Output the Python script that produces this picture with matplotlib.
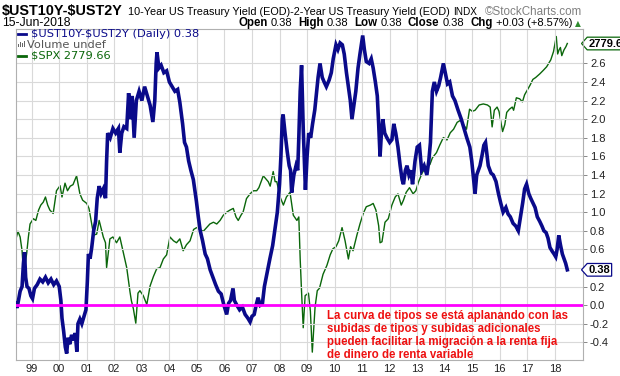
import matplotlib
matplotlib.use("Agg")
import matplotlib.pyplot as plt
import matplotlib.transforms as mtransforms
from matplotlib.path import Path
import numpy as np

# ---------------- data ----------------
spread_t = [1998.43, 1998.47, 1998.52, 1998.58, 1998.65, 1998.70, 1998.74, 1998.78, 1998.83, 1998.90,
            1998.97, 1999.03, 1999.10, 1999.20, 1999.30, 1999.40, 1999.50, 1999.60, 1999.70, 1999.80,
            1999.90, 2000.00, 2000.06, 2000.10, 2000.16, 2000.22, 2000.27, 2000.32, 2000.38, 2000.45,
            2000.52, 2000.58, 2000.64, 2000.68, 2000.75, 2000.82, 2000.90, 2000.97, 2001.02, 2001.06,
            2001.12, 2001.18, 2001.25, 2001.32, 2001.38, 2001.45, 2001.52, 2001.60, 2001.68, 2001.72,
            2001.76, 2001.85, 2001.95, 2002.05, 2002.15, 2002.20, 2002.27, 2002.35, 2002.45, 2002.52,
            2002.58, 2002.65, 2002.72, 2002.80, 2002.90, 2003.00, 2003.10, 2003.20, 2003.30, 2003.40,
            2003.47, 2003.52, 2003.55, 2003.62, 2003.70, 2003.80, 2003.90, 2004.00, 2004.10, 2004.20,
            2004.30, 2004.38, 2004.48, 2004.55, 2004.62, 2004.70, 2004.78, 2004.87, 2004.98, 2005.05,
            2005.12, 2005.20, 2005.30, 2005.38, 2005.48, 2005.58, 2005.68, 2005.78, 2005.88, 2005.98,
            2006.08, 2006.15, 2006.22, 2006.31, 2006.36, 2006.45, 2006.55, 2006.65, 2006.75, 2006.85,
            2006.93, 2007.00, 2007.08, 2007.15, 2007.22, 2007.30, 2007.38, 2007.45, 2007.55, 2007.65,
            2007.75, 2007.85, 2007.92, 2008.00, 2008.05, 2008.10, 2008.13, 2008.20, 2008.28, 2008.35,
            2008.40, 2008.44, 2008.52, 2008.60, 2008.66, 2008.70, 2008.75, 2008.80, 2008.86, 2008.94,
            2009.00, 2009.06, 2009.13, 2009.20, 2009.28, 2009.33, 2009.40, 2009.47, 2009.55, 2009.62,
            2009.70, 2009.80, 2009.88, 2009.95, 2010.05, 2010.12, 2010.20, 2010.28, 2010.35, 2010.43,
            2010.50, 2010.57, 2010.63, 2010.70, 2010.77, 2010.85, 2010.92, 2011.02, 2011.08, 2011.15,
            2011.25, 2011.33, 2011.40, 2011.48, 2011.55, 2011.60, 2011.65, 2011.70, 2011.75, 2011.82,
            2011.90, 2012.00, 2012.08, 2012.15, 2012.22, 2012.30, 2012.38, 2012.45, 2012.50, 2012.57,
            2012.63, 2012.70, 2012.77, 2012.83, 2012.92, 2013.00, 2013.08, 2013.16, 2013.25, 2013.35,
            2013.42, 2013.48, 2013.55, 2013.62, 2013.70, 2013.78, 2013.85, 2013.95, 2014.02, 2014.10,
            2014.18, 2014.28, 2014.37, 2014.48, 2014.60, 2014.70, 2014.80, 2014.91, 2014.98, 2015.03,
            2015.10, 2015.16, 2015.22, 2015.28, 2015.36, 2015.42, 2015.48, 2015.58, 2015.68, 2015.76,
            2015.86, 2015.95, 2016.03, 2016.12, 2016.22, 2016.30, 2016.38, 2016.48, 2016.58, 2016.67,
            2016.75, 2016.83, 2016.90, 2016.97, 2017.05, 2017.12, 2017.20, 2017.28, 2017.36, 2017.45,
            2017.53, 2017.60, 2017.68, 2017.75, 2017.82, 2017.90, 2017.97, 2018.03, 2018.08, 2018.14,
            2018.20, 2018.27, 2018.33, 2018.39, 2018.45]
spread_v = [0.02, -0.03, 0.05, 0.15, 0.20, 0.45, 0.57, 0.30, 0.20, 0.18,
            0.10, 0.07, 0.18, 0.22, 0.28, 0.25, 0.30, 0.24, 0.28, 0.22,
            0.26, 0.20, 0.05, -0.14, -0.28, -0.45, -0.52, -0.35, -0.42, -0.32,
            -0.38, -0.30, -0.50, -0.20, -0.15, -0.20, -0.12, -0.05, 0.25, 0.55,
            0.50, 0.62, 0.80, 0.90, 1.15, 1.28, 1.20, 1.25, 1.15, 1.55,
            1.85, 1.80, 1.90, 1.85, 1.90, 1.64, 1.85, 1.92, 1.90, 2.28,
            2.00, 2.25, 1.80, 2.20, 2.30, 2.20, 2.35, 2.25, 2.15, 1.97,
            2.20, 2.60, 2.72, 2.55, 2.58, 2.50, 2.52, 2.40, 2.35, 2.30,
            2.32, 2.18, 1.95, 1.75, 1.70, 1.55, 1.45, 1.35, 1.12, 0.95,
            0.80, 0.70, 0.55, 0.50, 0.38, 0.30, 0.22, 0.15, 0.12, 0.00,
            -0.10, 0.02, 0.05, 0.18, 0.05, 0.00, -0.05, -0.02, -0.10, -0.14,
            -0.18, -0.12, -0.10, 0.00, 0.08, 0.00, 0.02, 0.20, 0.35, 0.50,
            0.64, 0.85, 1.00, 1.30, 1.60, 2.00, 2.05, 1.85, 1.65, 1.50,
            1.45, 1.21, 1.40, 1.50, 1.45, 1.80, 2.30, 2.58, 1.90, 1.24,
            1.60, 1.85, 1.80, 1.95, 2.10, 2.25, 2.45, 2.60, 2.45, 2.40,
            2.35, 2.42, 2.50, 2.65, 2.80, 2.75, 2.82, 2.80, 2.70, 2.50,
            2.35, 2.20, 2.00, 2.15, 2.30, 2.55, 2.70, 2.90, 2.75, 2.62,
            2.60, 2.65, 2.55, 2.40, 2.25, 1.95, 1.60, 1.85, 2.00, 1.85,
            1.80, 1.75, 1.78, 1.95, 1.85, 1.70, 1.50, 1.35, 1.30, 1.45,
            1.50, 1.40, 1.45, 1.30, 1.55, 1.70, 1.72, 1.45, 1.50, 1.40,
            1.55, 1.75, 2.30, 2.40, 2.30, 2.36, 2.45, 2.60, 2.50, 2.38,
            2.40, 2.25, 2.20, 2.10, 2.00, 1.90, 1.80, 1.70, 1.55, 1.40,
            1.20, 1.40, 1.45, 1.50, 1.62, 1.72, 1.75, 1.50, 1.42, 1.40,
            1.33, 1.20, 1.10, 1.00, 1.05, 0.98, 0.95, 0.88, 0.85, 0.80,
            0.95, 1.10, 1.25, 1.30, 1.20, 1.15, 1.10, 1.05, 0.95, 0.90,
            0.85, 0.80, 0.78, 0.72, 0.62, 0.58, 0.55, 0.52, 0.60, 0.75,
            0.65, 0.55, 0.50, 0.45, 0.38]

spx_t = [1998.43, 1998.50, 1998.58, 1998.65, 1998.70, 1998.76, 1998.82, 1998.88, 1998.94, 1999.06,
         1999.15, 1999.25, 1999.33, 1999.42, 1999.50, 1999.58, 1999.66, 1999.78, 1999.90, 2000.03,
         2000.10, 2000.21, 2000.30, 2000.40, 2000.50, 2000.63, 2000.70, 2000.75, 2000.85, 2001.00,
         2001.08, 2001.18, 2001.25, 2001.36, 2001.45, 2001.60, 2001.68, 2001.72, 2001.84, 2001.95,
         2002.08, 2002.20, 2002.33, 2002.45, 2002.57, 2002.62, 2002.69, 2002.78, 2002.86, 2002.93,
         2003.05, 2003.18, 2003.30, 2003.42, 2003.54, 2003.66, 2003.78, 2003.90, 2004.02, 2004.15,
         2004.26, 2004.38, 2004.50, 2004.62, 2004.75, 2004.88, 2004.99, 2005.10, 2005.23, 2005.35,
         2005.47, 2005.60, 2005.72, 2005.84, 2005.96, 2006.10, 2006.20, 2006.32, 2006.42, 2006.50,
         2006.60, 2006.68, 2006.80, 2006.93, 2007.05, 2007.17, 2007.25, 2007.41, 2007.50, 2007.59,
         2007.66, 2007.77, 2007.84, 2007.90, 2008.02, 2008.14, 2008.25, 2008.38, 2008.50, 2008.63,
         2008.70, 2008.75, 2008.80, 2008.86, 2008.93, 2009.05, 2009.12, 2009.19, 2009.29, 2009.37,
         2009.45, 2009.58, 2009.72, 2009.84, 2009.94, 2010.05, 2010.15, 2010.27, 2010.38, 2010.50,
         2010.58, 2010.67, 2010.81, 2010.92, 2011.04, 2011.15, 2011.30, 2011.40, 2011.50, 2011.60,
         2011.65, 2011.72, 2011.83, 2011.95, 2012.08, 2012.20, 2012.30, 2012.42, 2012.50, 2012.60,
         2012.72, 2012.85, 2012.95, 2013.05, 2013.18, 2013.30, 2013.46, 2013.55, 2013.70, 2013.82,
         2013.95, 2014.08, 2014.20, 2014.32, 2014.45, 2014.58, 2014.65, 2014.79, 2014.90, 2015.00,
         2015.10, 2015.25, 2015.40, 2015.55, 2015.65, 2015.72, 2015.80, 2015.90, 2015.97, 2016.10,
         2016.18, 2016.25, 2016.35, 2016.45, 2016.50, 2016.60, 2016.72, 2016.82, 2016.90, 2017.00,
         2017.10, 2017.20, 2017.30, 2017.45, 2017.58, 2017.70, 2017.85, 2017.95, 2018.05, 2018.10,
         2018.15, 2018.20, 2018.25, 2018.33, 2018.40, 2018.45]
spx_v = [1140, 1180, 1150, 1080, 985, 1010, 1070, 1150, 1220, 1250,
         1240, 1300, 1330, 1348, 1380, 1330, 1300, 1280, 1420, 1453,
         1380, 1470, 1420, 1450, 1460, 1520, 1450, 1400, 1360, 1340,
         1310, 1220, 1160, 1165, 1240, 1150, 1120, 1000, 1140, 1150,
         1120, 1150, 1070, 1000, 895, 860, 830, 776, 890, 900,
         880, 845, 920, 960, 995, 1000, 1040, 1060, 1150, 1130,
         1120, 1140, 1080, 1110, 1130, 1190, 1200, 1190, 1180, 1200,
         1220, 1230, 1220, 1240, 1270, 1290, 1300, 1310, 1260, 1240,
         1270, 1290, 1370, 1400, 1420, 1420, 1440, 1520, 1500, 1480,
         1450, 1550, 1480, 1480, 1380, 1330, 1380, 1410, 1270, 1240,
         1260, 1040, 895, 760, 880, 890, 820, 680, 835, 900,
         910, 970, 1010, 1060, 1090, 1100, 1130, 1200, 1130, 1040,
         1100, 1080, 1160, 1220, 1280, 1320, 1330, 1340, 1300, 1210,
         1120, 1125, 1230, 1250, 1330, 1380, 1400, 1330, 1360, 1410,
         1440, 1400, 1420, 1480, 1540, 1580, 1600, 1650, 1690, 1750,
         1810, 1790, 1850, 1880, 1940, 1960, 1930, 1880, 2060, 2040,
         2050, 2100, 2110, 2100, 2080, 1900, 2050, 2080, 2040, 1860,
         1920, 2030, 2060, 2080, 2050, 2170, 2160, 2130, 2200, 2250,
         2300, 2360, 2380, 2420, 2460, 2500, 2580, 2680, 2870, 2650,
         2700, 2730, 2630, 2700, 2740, 2780]

year_ticks = list(range(1999, 2019))
year_labels = ["99", "00", "01", "02", "03", "04", "05", "06", "07", "08",
               "09", "10", "11", "12", "13", "14", "15", "16", "17", "18"]
y_ticks = [-0.4, -0.2, 0.0, 0.2, 0.4, 0.6, 0.8, 1.0, 1.2, 1.4, 1.6, 1.8, 2.0, 2.2, 2.4, 2.6]

last_spread = 0.38
last_spx = 2779.66

# ---------------- figure ----------------
W, H = 620, 376
fig = plt.figure(figsize=(W / 100, H / 100), dpi=100)
fig.patch.set_facecolor("white")

L, R, T, B = 16, 583, 29, 360
ax = fig.add_axes([L / W, 1 - B / H, (R - L) / W, (B - T) / H])
ax2 = ax.twinx()

ax.set_xlim(1998.43, 2019.02)
ax.set_ylim(-0.59, 2.97)

grid_c = "#d9d9d9"
for s in ax.spines.values():
    s.set_color("#b0b0b0")
    s.set_linewidth(0.8)
ax.set_xticks(year_ticks)
ax.set_xticklabels(year_labels, fontsize=8, family="Liberation Sans", color="#222222")
shift = mtransforms.ScaledTranslation(-2.5 / 100, 0, fig.dpi_scale_trans)
for lab in ax.get_xticklabels():
    lab.set_transform(lab.get_transform() + shift)
ax.yaxis.tick_right()
ax.set_yticks(y_ticks)
# the 0.4 label sits under the last-value tag in the reference, so it is not shown
ax.set_yticklabels(["" if abs(v - 0.4) < 1e-9 else f"{v:.1f}" for v in y_ticks],
                   fontsize=8, family="Liberation Sans", color="#222222")
ax.tick_params(axis="x", length=0, pad=3)
ax.tick_params(axis="y", length=3, width=0.7, color="#888888", pad=2,
               left=False, labelleft=False, right=True, labelright=True)
ax.grid(True, color=grid_c, linewidth=0.8)
ax.set_axisbelow(True)

# SPX on hidden log axis
ax2.set_yscale("log")
ax2.set_ylim(656, 2970)
ax2.set_yticks([])
ax2.yaxis.set_minor_locator(matplotlib.ticker.NullLocator())
for s in ax2.spines.values():
    s.set_visible(False)
ax2.plot(spx_t, spx_v, color="#0a660a", linewidth=1.0, zorder=2)

ax.plot(spread_t, spread_v, color="#0a0a8a", linewidth=2.6, zorder=3, solid_joinstyle="miter")
ax.axhline(0.0, color="#ff00ff", linewidth=2.0, zorder=4)
ax.set_zorder(ax2.get_zorder() + 1)
ax.patch.set_visible(False)
ax2.patch.set_visible(True)
ax2.patch.set_facecolor("white")

# tag labels at right
def tag(x0, y0, width, height, mutation_size):
    pad = mutation_size * 0.12
    x0 -= pad; y0 -= pad; width += 2 * pad; height += 2 * pad
    tip = height * 0.45
    verts = [(x0, y0), (x0 + width, y0), (x0 + width, y0 + height), (x0, y0 + height),
             (x0 - tip, y0 + height / 2), (x0, y0)]
    return Path(verts, closed=True)

tr1 = mtransforms.blended_transform_factory(ax.transAxes, ax.transData)
ax.annotate(f"{last_spread:.2f}", xy=(1.0, last_spread), xycoords=tr1, xytext=(4, 0),
            textcoords="offset points", ha="left", va="center", fontsize=8, fontweight="bold",
            family="Liberation Sans", color="black", annotation_clip=False, zorder=10,
            bbox=dict(boxstyle=tag, fc="white", ec="#0a0a8a", lw=0.9))
tr2 = mtransforms.blended_transform_factory(ax2.transAxes, ax2.transData)
ax2.annotate(f"{last_spx:.2f}", xy=(1.0, last_spx), xycoords=tr2, xytext=(4, 0),
             textcoords="offset points", ha="left", va="center", fontsize=8, fontweight="bold",
             family="Liberation Sans", color="black", annotation_clip=False, zorder=10,
             bbox=dict(boxstyle=tag, fc="white", ec="#0a660a", lw=0.9))

# ---------------- text helpers ----------------
fig.canvas.draw()
renderer = fig.canvas.get_renderer()

def runs(x_px, y_px, parts, align="left"):
    texts = []
    x = x_px
    for s, gap, kw in parts:
        t = fig.text(x / W, 1 - y_px / H, s, va="baseline", ha="left", parse_math=False, **kw)
        bb = t.get_window_extent(renderer)
        texts.append(t)
        x += bb.width + gap
    if align == "right":
        sh = x_px - (x - parts[-1][1])
        for t in texts:
            px, py = t.get_position()
            t.set_position((px + sh / W, py))
    return texts

AR = "Liberation Sans"
runs(2, 15, [
    ("$UST10Y-$UST2Y", 5, dict(fontsize=10.4, fontweight="bold", family=AR, color="black")),
    ("10-Year US Treasury Yield (EOD)-2-Year US Treasury Yield (EOD)", 4, dict(fontsize=7.8, family=AR, color="black")),
    ("INDX", 0, dict(fontsize=7.2, family=AR, color="black")),
])
fig.text(582 / W, 1 - 15 / H, "©StockCharts.com", ha="right", va="baseline",
         fontsize=8.4, family=AR, color="#808080")
fig.text(2 / W, 1 - 26 / H, "15-Jun-2018", ha="left", va="baseline", fontsize=8.8, family=AR, color="black")
bk = dict(fontsize=8.3, fontweight="bold", family=AR, color="black")
nm = dict(fontsize=8, family=AR, color="black")
runs(572, 26, [
    ("Open", 3, bk), ("0.38", 6, nm),
    ("High", 3, bk), ("0.38", 6, nm),
    ("Low", 3, bk), ("0.38", 6, nm),
    ("Close", 3, bk), ("0.38", 6, nm),
    ("Chg", 3, bk), ("+0.03 (+8.57%)", 0, nm),
], align="right")
fig.text(578 / W, 1 - 26 / H, "▲", ha="center", va="baseline", fontsize=5.5,
         family="DejaVu Sans", color="#2e8b2e")

# legend inside plot
DV = "DejaVu Sans"
leg_y = [37, 48, 59]
fig.add_artist(plt.Line2D([18 / W, 26 / W], [1 - 33.5 / H, 1 - 33.5 / H], color="#0a0a8a", lw=2.0))
fig.text(31 / W, 1 - leg_y[0] / H, "$UST10Y-$UST2Y (Daily) 0.38", fontsize=8.2, family=DV,
         color="#0a0a8a", va="baseline", parse_math=False)
for i, hgt in enumerate([3, 5, 4, 6]):
    fig.add_artist(plt.Rectangle(((18 + i * 2) / W, 1 - 47 / H), 1.4 / W, hgt / H,
                                 color="#666666", lw=0))
fig.text(27 / W, 1 - leg_y[1] / H, "Volume undef", fontsize=8.2, family=DV, color="#555555", va="baseline")
fig.add_artist(plt.Line2D([18 / W, 26 / W], [1 - 55.5 / H, 1 - 55.5 / H], color="#0a660a", lw=2.0))
fig.text(31 / W, 1 - leg_y[2] / H, "$SPX 2779.66", fontsize=8.2, family=DV, color="#0a660a",
         va="baseline", parse_math=False)

# red annotation
note = ["La curva de tipos se está aplanando con las",
        "subidas de tipos y subidas adicionales",
        "pueden facilitar la migración a la renta fija",
        "de dinero de renta variable"]
base = [319.5, 332, 345, 357.5]
for s, yb in zip(note, base):
    fig.text(327 / W, 1 - yb / H, s, fontsize=8.3, fontweight="bold", family=AR,
             color="#ee1111", va="baseline", ha="left")

fig.savefig("out.png", dpi=100, facecolor="white")
